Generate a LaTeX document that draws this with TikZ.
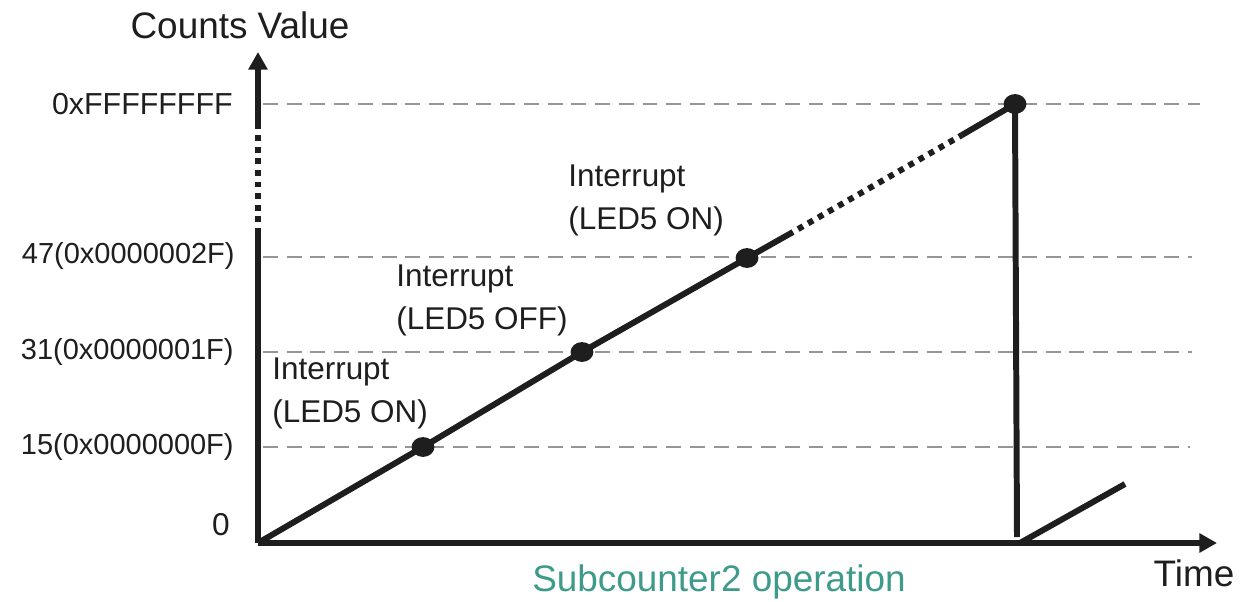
\documentclass[tikz,border=0pt]{standalone}
\usepackage{fontspec}
\setmainfont{Liberation Sans}
\usetikzlibrary{arrows.meta,shapes.geometric}
\definecolor{ink}{RGB}{30,30,30}
\definecolor{gridgray}{RGB}{150,150,150}
\definecolor{captiongreen}{RGB}{62,155,138}

\begin{document}
\begin{tikzpicture}[x=0.02cm,y=-0.02cm,
  axis/.style={line width=3.4pt, draw=ink, -{Triangle[length=10pt,width=10.5pt]}},
  ramp/.style={line width=3.4pt, draw=ink},
  gapline/.style={line width=3.4pt, draw=ink, dash pattern=on 3.3pt off 3.3pt, dash phase=3.3pt},
  level/.style={line width=1.1pt, draw=gridgray, dash pattern=on 8.5pt off 5pt},
  hit/.style={ellipse, fill=ink, inner sep=0pt, minimum width=13pt, minimum height=11.3pt},
  ticklabel/.style={anchor=east, inner sep=0pt, text=ink, font=\fontsize{16.5}{19}\selectfont},
  note/.style={anchor=west, align=left, inner sep=0pt, text=ink, font=\fontsize{17.9}{24.5}\selectfont},
  title/.style={inner sep=0pt, text=ink, font=\fontsize{21}{24}\selectfont}
]
\useasboundingbox (0,0) rectangle (1255,602);

% axes
\coordinate (O) at (258,543);
\coordinate (ytop) at (258,52);
\coordinate (xend) at (1217,543);
\coordinate (ybreaklo) at (258,228);
\coordinate (ybreakhi) at (258,127);

% horizontal count levels
\coordinate (gmaxA) at (263,104);  \coordinate (gmaxB) at (1200,104);
\coordinate (g47A) at (263,257);   \coordinate (g47B) at (1192,257);
\coordinate (g31A) at (263,352);   \coordinate (g31B) at (1192,352);
\coordinate (g15A) at (263,447);   \coordinate (g15B) at (1190,447);
\draw[level] (gmaxA) -- (gmaxB);
\draw[level] (g47A) -- (g47B);
\draw[level] (g31A) -- (g31B);
\draw[level] (g15A) -- (g15B);

% level labels
\node[ticklabel, font=\fontsize{17.3}{20}\selectfont] (lmax) at (233,104) {0xFFFFFFFF};
\node[ticklabel] (l47) at (235,256) {47(0x0000002F)};
\node[ticklabel] (l31) at (234,352) {31(0x0000001F)};
\node[ticklabel] (l15) at (234,447) {15(0x0000000F)};
\node[ticklabel, font=\fontsize{18}{20}\selectfont] (l0) at (230,525) {0};

% vertical axis with a break
\draw[ramp] (O) -- (ybreaklo);
\draw[gapline] (ybreaklo) -- (ybreakhi);
\draw[axis] (ybreakhi) -- (ytop);
% horizontal axis
\draw[axis] (O) -- (xend);

% counter ramp
\node[hit] (d15) at (423,447) {};
\node[hit] (d31) at (582,352) {};
\node[hit] (d47) at (747,258) {};
\node[hit] (dmax) at (1015,104) {};
\coordinate (rampbreaklo) at (793,232);
\coordinate (rampbreakhi) at (962,135);
\draw[ramp, line join=round] (O) -- (d15.center) -- (d31.center) -- (d47.center) -- (rampbreaklo);
\draw[gapline] (rampbreaklo) -- (rampbreakhi);
\draw[ramp] (rampbreakhi) -- (dmax.center);

% overflow and restart
\coordinate (dropend) at (1017,537);
\coordinate (restartA) at (1020,543);
\coordinate (restartB) at (1125,484);
\draw[ramp] (dmax.center) -- (dropend);
\draw[ramp] (restartA) -- (restartB);

% interrupt notes
\node[note] (n15) at (272,393) {Interrupt\\(LED5 ON)};
\node[note] (n31) at (396,300) {Interrupt\\(LED5 OFF)};
\node[note] (n47) at (568,200) {Interrupt\\(LED5 ON)};

% titles
\node[title] (ytitle) at (240,25) {Counts Value};
\node[title] (xtitle) at (1194,573) {Time};
\node[title, text=captiongreen] (caption) at (719,582) {Subcounter2 operation};
\end{tikzpicture}
\end{document}
